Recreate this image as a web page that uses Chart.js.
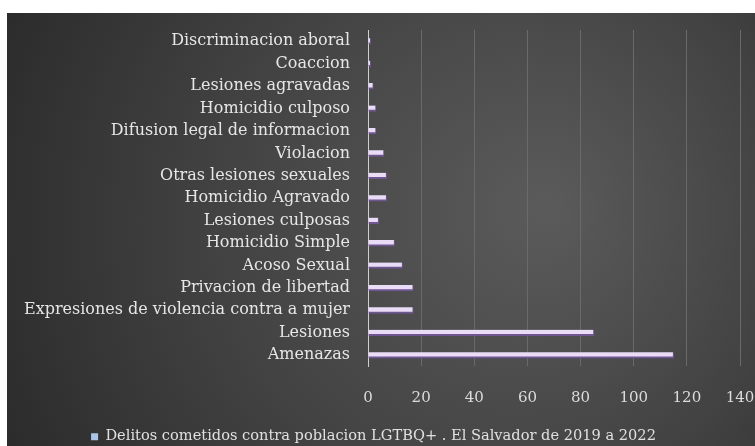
<!DOCTYPE html>
<html><head><meta charset="utf-8">
<script src="https://cdn.jsdelivr.net/npm/chart.js@4.4.0/dist/chart.umd.min.js"></script>
<style>
html,body{margin:0;padding:0;background:#fff;}
#wrap{position:absolute;left:7px;top:13px;width:748px;height:433px;}
</style></head>
<body>
<div id="wrap"><canvas id="c" width="748" height="433"></canvas></div>
<script>
const categories = ["Discriminacion aboral","Coaccion","Lesiones agravadas","Homicidio culposo","Difusion legal de informacion","Violacion","Otras lesiones sexuales","Homicidio Agravado","Lesiones culposas","Homicidio Simple","Acoso Sexual","Privacion de libertad","Expresiones de violencia contra a mujer","Lesiones","Amenazas"];
const values = [1,1,2,3,3,6,7,7,4,10,13,17,17,85,115];
const seriesName = "Delitos cometidos contra poblacion LGTBQ+ . El Salvador de 2019 a 2022";
const xTicks = [0,20,40,60,80,100,120,140];

const bgPlugin = {
  id:'bg',
  beforeDraw(chart){
    const {ctx,width,height} = chart;
    ctx.save();
    const g = ctx.createRadialGradient(width*0.72,height*0.45,10,width*0.6,height*0.5,width*0.75);
    g.addColorStop(0,'#5a5a5a');
    g.addColorStop(0.5,'#424242');
    g.addColorStop(1,'#262626');
    ctx.fillStyle = g;
    ctx.fillRect(0,0,width,height);
    ctx.restore();
  }
};

new Chart(document.getElementById('c'),{
  type:'bar',
  data:{labels:categories,datasets:[{label:seriesName,data:values,
    backgroundColor:'#eadcf7',borderColor:'#6f5592',
    borderWidth:{top:0,left:0,right:1,bottom:2},borderSkipped:false,
    barThickness:6}]},
  options:{
    indexAxis:'y',responsive:false,animation:false,
    layout:{padding:{left:0,right:15,top:17,bottom:-8}},
    scales:{
      x:{min:0,max:140,afterBuildTicks(ax){ax.ticks=xTicks.map(v=>({value:v}));},
        afterFit(s){s.height=62;s.paddingRight=0;s.paddingLeft=0;},
        grid:{color:'#6a6a6a',drawTicks:false,lineWidth:1},
        border:{display:false},
        ticks:{color:'#dcdcdc',padding:23,font:{family:'DejaVu Serif',size:15}}},
      y:{afterFit(s){s.width=361;s.paddingTop=0;s.paddingBottom=0;},
        grid:{display:false,drawTicks:false},
        border:{display:true,color:'#cfcfcf',width:1},
        ticks:{color:'#e6e6e6',padding:18,autoSkip:false,font:{family:'DejaVu Serif',size:16}}}
    },
    plugins:{
      legend:{position:'bottom',labels:{color:'#e0e0e0',boxWidth:7,boxHeight:7,padding:1,
        font:{family:'DejaVu Serif',size:14.6},
        generateLabels(chart){return [{text:seriesName,fillStyle:'#a9c4e6',strokeStyle:'#a9c4e6',lineWidth:0,fontColor:'#e0e0e0',datasetIndex:0}];}}},
      tooltip:{enabled:false}
    }
  },
  plugins:[bgPlugin]
});
</script>
</body></html>
